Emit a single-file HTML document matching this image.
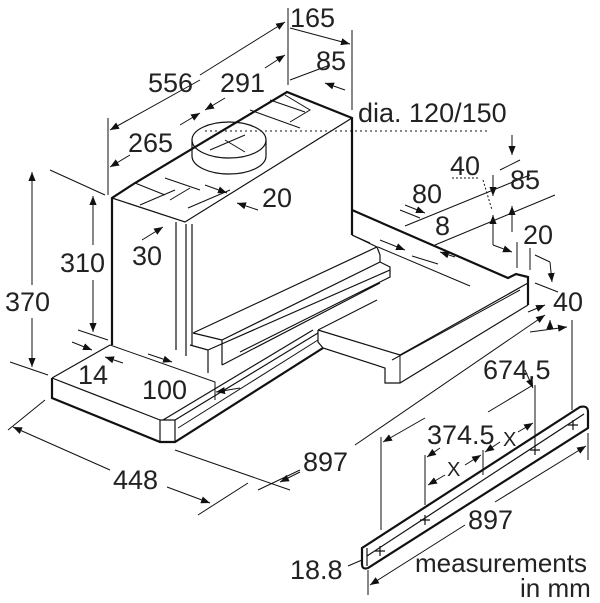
<!DOCTYPE html>
<html><head><meta charset="utf-8"><style>
html,body{margin:0;padding:0;background:#fff;}
svg{display:block;}
text{font-family:"Liberation Sans",sans-serif;font-size:27px;fill:#222;}
</style></head><body>
<svg width="600" height="603" viewBox="0 0 600 603" xmlns="http://www.w3.org/2000/svg">
<defs>
<marker id="a" viewBox="0 0 10 10" refX="10" refY="5" markerWidth="9" markerHeight="9" orient="auto-start-reverse" markerUnits="userSpaceOnUse"><path d="M0,1 L10,5 L0,9 z" fill="#111"/></marker>
</defs>
<g stroke="#111" fill="none" stroke-width="1.2">
<!-- tower -->
<path d="M112,345 L112,198 L135,183 L287,92 L352,118 L352,235" stroke-width="2.2"/>
<path d="M112,198 L185,222 L352,118" />
<line x1="176" y1="222" x2="176" y2="350"/>
<line x1="186" y1="224" x2="186" y2="356"/>
<line x1="192" y1="224" x2="192" y2="345"/>
<!-- inner ledge -->
<path d="M193,333 L377,247 L380,255 L380,262 L222,340 L222,365 M193,333 L222,340 M352,235 L377,247"/>
<path d="M222,365 L380,283 M380,262 L390,267 L390,277 L240,352 M190,345 L208,350 L208,373 M208,350 L390,270"/>
<!-- top face details -->
<ellipse cx="229" cy="140" rx="37" ry="18"/>
<path d="M192,140 L192,156 A37,18 0 0 0 266,156 L266,140"/>
<path d="M165,195 L135,183 M140,205 L175,190 M165,178 L200,190 M190,188 L170,200 M250,110 L300,128 M270,100 L305,112 M285,95 L310,110 L290,122" stroke-width="1"/>
<path d="M210,150 L245,135 M225,140 L245,152" stroke-width="1"/>
<!-- canopy -->
<path d="M352,210 L508,278 L516,274 L528,277 L528,305" stroke-width="2.2"/>
<path d="M318,330 L400,355 L528,283 M318,330 L318,342 L323,348 L385,368 L385,383 L400,383 L528,305" stroke-width="1.2"/>
<path d="M318,330 L377,300 M400,355 L400,383 M392,360 L520,290" stroke-width="1"/>
<path d="M352,235 L370,243 M378,247 L470,286" stroke-width="1"/>
<!-- base plate and bar -->
<path d="M52,378 L52,398 L160,442 L175,442 L323,348" stroke-width="2.2"/>
<path d="M52,378 L110,345 M52,378 L160,420 L160,442 M160,420 L175,420 L175,442 M175,420 L318,333 M163,420 L313,330"/>
<path d="M110,345 L215,382 L215,400 M178,428 L318,340" stroke-width="1"/>
<!-- rail -->
<path d="M362,548 L580,407 Q588,405 588,412 L588,428 L368,568 Q362,570 362,564 Z" stroke-width="2.2"/>
<path d="M367,556 L584,414 M367,548 L367,566" />
<path d="M375,551 h10 M380,546 v10 M420,520 h10 M425,515 v10 M530,450 h10 M535,445 v10 M568,425 h10 M573,420 v10"/>
</g>
<!-- dimension lines -->
<g stroke="#111" fill="none" stroke-width="1">
<line x1="108" y1="118" x2="108" y2="195"/>
<line x1="288" y1="8" x2="288" y2="85"/>
<line x1="352" y1="30" x2="352" y2="110"/>
<line x1="110" y1="130" x2="200" y2="80" marker-start="url(#a)"/>
<line x1="200" y1="75" x2="285" y2="22" marker-end="url(#a)"/>
<line x1="110" y1="167" x2="130" y2="155" marker-start="url(#a)"/>
<line x1="180" y1="125" x2="200" y2="113" marker-end="url(#a)"/>
<line x1="205" y1="110" x2="225" y2="98" marker-start="url(#a)"/>
<line x1="265" y1="68" x2="285" y2="55" marker-end="url(#a)"/>
<line x1="290" y1="28" x2="350" y2="44" marker-end="url(#a)"/>
<line x1="290" y1="80" x2="330" y2="65"/>
<line x1="345" y1="90" x2="325" y2="83" marker-end="url(#a)"/>
<line x1="205" y1="131" x2="487" y2="131" stroke-dasharray="2,3"/>
<line x1="50" y1="170" x2="105" y2="195"/>
<line x1="32" y1="172" x2="32" y2="285" marker-start="url(#a)"/>
<line x1="32" y1="318" x2="32" y2="367" marker-end="url(#a)"/>
<line x1="10" y1="362" x2="48" y2="375"/>
<line x1="93" y1="196" x2="93" y2="245" marker-start="url(#a)"/>
<line x1="93" y1="280" x2="93" y2="332" marker-end="url(#a)"/>
<line x1="78" y1="330" x2="108" y2="340"/>
<line x1="72" y1="342" x2="92" y2="350" marker-end="url(#a)"/>
<line x1="123" y1="363" x2="105" y2="357" marker-end="url(#a)"/>
<line x1="148" y1="354" x2="172" y2="362" marker-end="url(#a)"/>
<line x1="240" y1="388" x2="216" y2="392" marker-end="url(#a)"/>
<line x1="142" y1="240" x2="163" y2="227" marker-end="url(#a)"/>
<line x1="205" y1="185" x2="227" y2="193" marker-end="url(#a)"/>
<line x1="258" y1="210" x2="237" y2="203" marker-end="url(#a)"/>
<line x1="188" y1="208" x2="230" y2="190"/>
<line x1="45" y1="400" x2="8" y2="430"/>
<line x1="13" y1="427" x2="110" y2="470" marker-start="url(#a)"/>
<line x1="167" y1="487" x2="210" y2="503" marker-end="url(#a)"/>
<line x1="248" y1="483" x2="198" y2="515"/>
<line x1="175" y1="450" x2="290" y2="490"/>
<line x1="258" y1="490" x2="300" y2="470"/>
<line x1="280" y1="482" x2="300" y2="472" marker-start="url(#a)"/>
<line x1="355" y1="445" x2="545" y2="315" marker-end="url(#a)"/>
<line x1="400" y1="210" x2="420" y2="218"/>
<line x1="405" y1="205" x2="425" y2="213" marker-end="url(#a)"/>
<line x1="380" y1="240" x2="405" y2="250" marker-end="url(#a)"/>
<line x1="405" y1="226" x2="530" y2="175"/>
<line x1="435" y1="245" x2="555" y2="195"/>
<line x1="455" y1="257" x2="440" y2="252" marker-end="url(#a)"/>
<line x1="412" y1="256" x2="438" y2="264"/>
<line x1="452" y1="178" x2="480" y2="178" stroke-dasharray="2,2"/>
<line x1="483" y1="180" x2="492" y2="210" stroke-dasharray="2,2"/>
<line x1="493" y1="175" x2="493" y2="196" marker-end="url(#a)"/>
<line x1="512" y1="135" x2="512" y2="155" marker-end="url(#a)"/>
<line x1="500" y1="170" x2="520" y2="160"/>
<line x1="493" y1="245" x2="493" y2="215" marker-end="url(#a)"/>
<line x1="512" y1="232" x2="512" y2="206" marker-end="url(#a)"/>
<line x1="493" y1="245" x2="512" y2="252" marker-end="url(#a)"/>
<line x1="517" y1="242" x2="517" y2="268"/>
<line x1="530" y1="248" x2="530" y2="270"/>
<line x1="535" y1="255" x2="550" y2="262"/>
<line x1="550" y1="262" x2="552" y2="282" marker-end="url(#a)"/>
<line x1="535" y1="283" x2="558" y2="292"/>
<line x1="528" y1="312" x2="545" y2="305" marker-end="url(#a)"/>
<line x1="550" y1="330" x2="550" y2="320" marker-end="url(#a)"/>
<line x1="530" y1="332" x2="567" y2="327" marker-end="url(#a)"/>
<line x1="572" y1="320" x2="572" y2="410"/>
<line x1="535" y1="385" x2="535" y2="445"/>
<line x1="525" y1="370" x2="533" y2="388" marker-end="url(#a)"/>
<line x1="488" y1="412" x2="533" y2="385"/>
<line x1="381" y1="437" x2="381" y2="530"/>
<line x1="383" y1="442" x2="425" y2="418" marker-start="url(#a)"/>
<line x1="425" y1="455" x2="425" y2="505"/>
<line x1="483" y1="450" x2="483" y2="475"/>
<line x1="427" y1="457" x2="440" y2="448" marker-start="url(#a)"/>
<line x1="428" y1="485" x2="445" y2="475" marker-start="url(#a)"/>
<line x1="465" y1="465" x2="481" y2="455" marker-end="url(#a)"/>
<line x1="485" y1="452" x2="500" y2="442" marker-start="url(#a)"/>
<line x1="518" y1="432" x2="533" y2="423" marker-end="url(#a)"/>
<line x1="588" y1="433" x2="588" y2="460"/>
<line x1="368" y1="570" x2="368" y2="595"/>
<line x1="370" y1="585" x2="465" y2="525" marker-start="url(#a)"/>
<line x1="495" y1="502" x2="586" y2="446" marker-end="url(#a)"/>
<line x1="348" y1="566" x2="362" y2="560"/>
</g>
<text x="290" y="27">165</text>
<text x="148" y="92">556</text>
<text x="220" y="92">291</text>
<text x="316" y="70">85</text>
<text x="358" y="122">dia. 120/150</text>
<text x="128" y="152">265</text>
<text x="450" y="175">40</text>
<text x="510" y="189">85</text>
<text x="412" y="203">80</text>
<text x="262" y="207">20</text>
<text x="435" y="235">8</text>
<text x="523" y="244">20</text>
<text x="60" y="272">310</text>
<text x="132" y="265">30</text>
<text x="5" y="311">370</text>
<text x="553" y="311">40</text>
<text x="483" y="379">674.5</text>
<text x="78" y="384">14</text>
<text x="142" y="399">100</text>
<text x="427" y="444">374.5</text>
<text x="503" y="446" style="font-size:20px">X</text>
<text x="447" y="476" style="font-size:20px">X</text>
<text x="303" y="471">897</text>
<text x="113" y="489">448</text>
<text x="468" y="529">897</text>
<text x="290" y="579">18.8</text>
<text x="415" y="572" style="font-size:26px">measurements</text>
<text x="520" y="597" style="font-size:26px">in mm</text>
</svg>
</body></html>
